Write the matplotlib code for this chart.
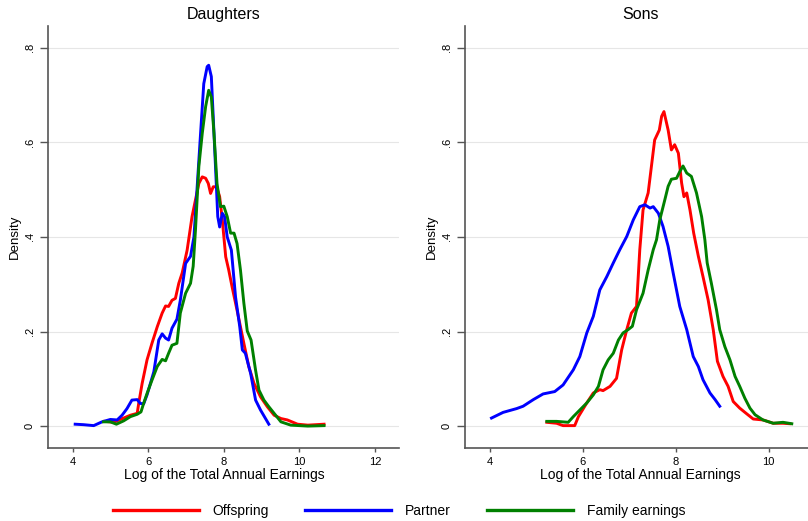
import matplotlib
matplotlib.use('Agg')
import matplotlib.pyplot as plt
from matplotlib.lines import Line2D

plt.rcParams['font.family'] = ['Liberation Sans', 'DejaVu Sans']

# Daughters panel, kernel density curves
dau_off_x = [4.85, 5.10, 5.26, 5.53, 5.71, 5.75, 5.84, 5.97, 6.10, 6.24, 6.37, 6.46, 6.54, 6.63, 6.72, 6.81,
             6.90, 7.03, 7.16, 7.25, 7.34, 7.43, 7.52, 7.59, 7.65, 7.72, 7.81, 7.89, 7.96, 8.05, 8.13, 8.22,
             8.35, 8.44, 8.53, 8.66, 8.80, 8.97, 9.15, 9.33, 9.51, 9.68, 9.95, 10.22, 10.65]
dau_off_y = [0.010, 0.008, 0.014, 0.023, 0.027, 0.048, 0.090, 0.140, 0.175, 0.210, 0.239, 0.254, 0.253, 0.266,
             0.270, 0.302, 0.324, 0.372, 0.443, 0.478, 0.513, 0.527, 0.524, 0.513, 0.492, 0.506, 0.506, 0.485,
             0.436, 0.358, 0.330, 0.294, 0.245, 0.210, 0.175, 0.126, 0.090, 0.062, 0.041, 0.023, 0.016, 0.013,
             0.004, 0.002, 0.004]

dau_par_x = [4.07, 4.29, 4.56, 4.78, 5.00, 5.18, 5.31, 5.44, 5.57, 5.71, 5.79, 5.88, 5.97, 6.15, 6.28, 6.37,
             6.46, 6.54, 6.63, 6.76, 6.85, 6.99, 7.12, 7.21, 7.29, 7.38, 7.47, 7.56, 7.60, 7.67, 7.72, 7.78,
             7.84, 7.89, 7.96, 8.02, 8.09, 8.20, 8.31, 8.42, 8.49, 8.57, 8.71, 8.84, 8.97, 9.19]
dau_par_y = [0.004, 0.003, 0.001, 0.009, 0.014, 0.013, 0.023, 0.037, 0.055, 0.056, 0.048, 0.047, 0.066, 0.115,
             0.182, 0.195, 0.186, 0.182, 0.207, 0.226, 0.266, 0.344, 0.359, 0.400, 0.499, 0.612, 0.724, 0.760,
             0.763, 0.739, 0.654, 0.549, 0.443, 0.421, 0.450, 0.443, 0.400, 0.372, 0.273, 0.211, 0.161, 0.154,
             0.111, 0.055, 0.034, 0.004]

dau_fam_x = [4.82, 5.00, 5.16, 5.35, 5.53, 5.71, 5.81, 5.88, 5.97, 6.10, 6.24, 6.37, 6.46, 6.54, 6.63, 6.76,
             6.85, 6.99, 7.12, 7.19, 7.25, 7.34, 7.43, 7.52, 7.60, 7.67, 7.74, 7.82, 7.91, 8.00, 8.09, 8.18,
             8.27, 8.35, 8.44, 8.53, 8.62, 8.72, 8.84, 8.93, 9.06, 9.19, 9.33, 9.51, 9.77, 10.22, 10.65]
dau_fam_y = [0.009, 0.009, 0.004, 0.011, 0.020, 0.025, 0.030, 0.048, 0.069, 0.097, 0.126, 0.141, 0.138, 0.154,
             0.171, 0.175, 0.239, 0.281, 0.302, 0.338, 0.414, 0.549, 0.619, 0.676, 0.710, 0.696, 0.619, 0.513,
             0.464, 0.465, 0.443, 0.408, 0.408, 0.386, 0.330, 0.260, 0.201, 0.182, 0.118, 0.076, 0.055, 0.041,
             0.027, 0.009, 0.002, 0.000, 0.001]

# Sons panel
son_off_x = [5.23, 5.44, 5.58, 5.83, 5.91, 6.09, 6.23, 6.37, 6.44, 6.59, 6.73, 6.84, 6.95, 7.05, 7.16, 7.23,
             7.30, 7.41, 7.48, 7.55, 7.65, 7.70, 7.75, 7.84, 7.91, 7.98, 8.06, 8.13, 8.18, 8.24, 8.31, 8.39,
             8.49, 8.59, 8.70, 8.81, 8.90, 9.02, 9.13, 9.24, 9.38, 9.53, 9.67, 9.88, 10.10, 10.31, 10.46]
son_off_y = [0.008, 0.006, 0.001, 0.001, 0.020, 0.049, 0.070, 0.077, 0.075, 0.084, 0.101, 0.161, 0.204, 0.239,
             0.253, 0.373, 0.457, 0.493, 0.549, 0.605, 0.626, 0.655, 0.665, 0.626, 0.584, 0.595, 0.577, 0.514,
             0.485, 0.493, 0.457, 0.408, 0.359, 0.316, 0.267, 0.204, 0.137, 0.105, 0.084, 0.052, 0.038, 0.026,
             0.015, 0.013, 0.006, 0.006, 0.005]

son_par_x = [4.04, 4.29, 4.58, 4.72, 4.94, 5.15, 5.40, 5.58, 5.80, 5.94, 6.09, 6.23, 6.37, 6.52, 6.66, 6.80,
             6.95, 7.09, 7.23, 7.34, 7.45, 7.52, 7.63, 7.73, 7.84, 7.95, 8.09, 8.24, 8.38, 8.49, 8.59, 8.74,
             8.85, 8.95]
son_par_y = [0.017, 0.029, 0.037, 0.042, 0.056, 0.068, 0.073, 0.087, 0.119, 0.147, 0.197, 0.232, 0.288, 0.316,
             0.345, 0.373, 0.401, 0.436, 0.464, 0.468, 0.461, 0.464, 0.450, 0.422, 0.380, 0.323, 0.253, 0.204,
             0.147, 0.126, 0.098, 0.070, 0.056, 0.042]

son_fam_x = [5.23, 5.44, 5.69, 5.80, 5.94, 6.09, 6.23, 6.34, 6.44, 6.55, 6.66, 6.77, 6.87, 6.98, 7.07, 7.16,
             7.30, 7.41, 7.52, 7.59, 7.66, 7.77, 7.84, 7.91, 8.02, 8.09, 8.16, 8.24, 8.34, 8.45, 8.56, 8.63,
             8.68, 8.77, 8.88, 8.95, 9.06, 9.17, 9.28, 9.38, 9.49, 9.60, 9.71, 9.88, 10.10, 10.31, 10.50]
son_fam_y = [0.010, 0.010, 0.008, 0.020, 0.034, 0.049, 0.066, 0.084, 0.119, 0.140, 0.154, 0.182, 0.197, 0.204,
             0.211, 0.246, 0.281, 0.330, 0.373, 0.394, 0.436, 0.479, 0.507, 0.522, 0.524, 0.538, 0.550, 0.535,
             0.528, 0.493, 0.443, 0.394, 0.345, 0.302, 0.246, 0.204, 0.168, 0.140, 0.105, 0.084, 0.059, 0.038,
             0.024, 0.013, 0.006, 0.008, 0.005]

series_labels = ['Offspring', 'Partner', 'Family earnings']
series_colors = ['#ff0000', '#0000ff', '#008000']
y_ticks = [0, 0.2, 0.4, 0.6, 0.8]
y_ticklabels = ['0', '.2', '.4', '.6', '.8']

axis_grey = '#555555'


def style_panel(ax, title, xticks, xlim):
    for side in ['top', 'right']:
        ax.spines[side].set_visible(False)
    for side in ['left', 'bottom']:
        ax.spines[side].set_color(axis_grey)
        ax.spines[side].set_linewidth(1.2)
    ax.set_xlim(*xlim)
    ax.set_ylim(-0.047, 0.846)
    ax.set_xticks(xticks)
    ax.set_xticklabels([str(t) for t in xticks], fontsize=8)
    ax.set_yticks(y_ticks)
    ax.set_yticklabels(y_ticklabels, fontsize=8, rotation=90, va='center')
    ax.tick_params(axis='x', length=3, width=1, color=axis_grey, pad=3)
    ax.tick_params(axis='y', length=5.5, width=1, color=axis_grey, pad=4)
    ax.grid(axis='y', color='#e6e6e6', linewidth=0.8)
    ax.set_axisbelow(True)
    ax.set_xlabel('Log of the Total Annual Earnings', fontsize=10, labelpad=1)
    ax.set_ylabel('Density', fontsize=9.5, labelpad=3)
    ax.set_title(title, fontsize=11.5, pad=5)


fig = plt.figure(figsize=(8.08, 5.21), dpi=100)
ax1 = fig.add_axes([0.0598, 0.1395, 0.4344, 0.8106])
ax2 = fig.add_axes([0.5755, 0.1395, 0.4332, 0.8106])

for x, y, c in zip([dau_off_x, dau_par_x, dau_fam_x], [dau_off_y, dau_par_y, dau_fam_y], series_colors):
    ax1.plot(x, y, color=c, linewidth=2.1)
for x, y, c in zip([son_off_x, son_par_x, son_fam_x], [son_off_y, son_par_y, son_fam_y], series_colors):
    ax2.plot(x, y, color=c, linewidth=2.1)

style_panel(ax1, 'Daughters', [4, 6, 8, 10, 12], (3.36, 12.64))
style_panel(ax2, 'Sons', [4, 6, 8, 10], (3.47, 11.0))

handles = [Line2D([], [], color=c, linewidth=2.4) for c in series_colors]
fig.legend(handles, series_labels, loc='center', bbox_to_anchor=(399 / 808, 1 - 511 / 521), ncol=3,
           frameon=False, fontsize=10, handlelength=6.2, handletextpad=1.0, columnspacing=2.6)

fig.savefig('out.png', dpi=100)
